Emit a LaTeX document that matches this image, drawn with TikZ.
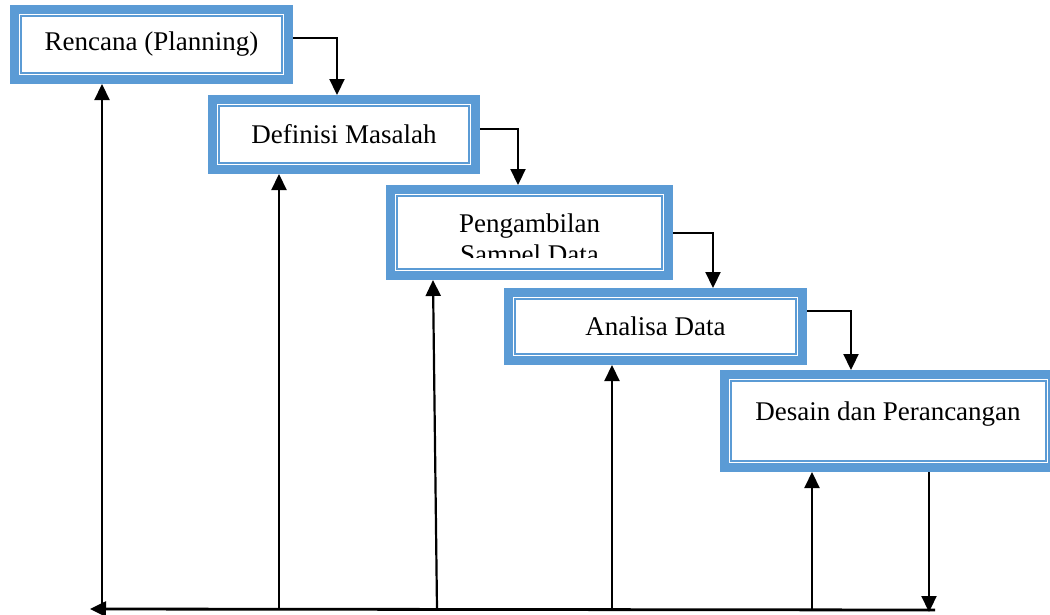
\documentclass[tikz,border=0pt]{standalone}
\usepackage{fontspec}
\setmainfont{Liberation Serif}
\usetikzlibrary{arrows.meta}
\definecolor{boxblue}{HTML}{5B9BD5}
\tikzset{
  stagebox/.style={draw=boxblue, line width=9pt, rectangle, inner sep=0pt, fill=white},
  innerline/.style={draw=boxblue, line width=2pt},
  conn/.style={draw=black, line width=2.2pt, -{Triangle[width=15pt,length=16pt]}},
  lbl/.style={font=\fontsize{27}{31}\selectfont, inner sep=0pt}
}
\newcommand{\innerframe}[1]{%
  \draw[innerline] ([shift={(11,11)}]#1.north west) rectangle ([shift={(-11,-11)}]#1.south east);}
\begin{document}
\begin{tikzpicture}[x=1pt,y=-1pt]
\useasboundingbox (0,0) rectangle (1050,614);
% boxes (outer extents in px)
\node[stagebox, minimum width=274pt, minimum height=70pt] (b1) at (151.5,44.5) {};
\node[stagebox, minimum width=263pt, minimum height=70pt] (b2) at (344,134.5) {};
\node[stagebox, minimum width=278pt, minimum height=86pt] (b3) at (529.5,232.5) {};
\node[stagebox, minimum width=294pt, minimum height=68pt] (b4) at (655.5,326.5) {};
\node[stagebox, minimum width=328pt, minimum height=93pt] (b5) at (888.5,421) {};
\innerframe{b1}
\innerframe{b2}
\innerframe{b3}
\innerframe{b4}
\innerframe{b5}
% labels
\node[lbl] (t1) at (b1.center) {Rencana (Planning)};
\node[lbl] (t2) at (b2.center) {Definisi Masalah};
\begin{scope}
  \clip (400,198) rectangle (660,257);
  \node[lbl, anchor=base, align=center] (t3) at (529.5,263) {Pengambilan\\Sampel Data};
\end{scope}
\node[lbl] (t4) at (b4.center) {Analisa Data};
\node[lbl, anchor=base] (t5) at (888,420) {Desain dan Perancangan};
% step connectors
\draw[conn] (b1.east |- 0,38) -| (337,0 |- b2.north);
\draw[conn] (b2.east |- 0,129) -| (518,0 |- b3.north);
\draw[conn] (b3.east |- 0,233) -| (713,0 |- b4.north);
\draw[conn] (b4.east |- 0,311) -| (851,0 |- b5.north);
% bottom feedback line
\coordinate (p1) at (102,609);
\coordinate (p2) at (279,609);
\coordinate (p3) at (437,609);
\coordinate (p4) at (612,609);
\coordinate (p5) at (812,609);
\coordinate (p6) at (929,609);
\coordinate (pend) at (935,610);
\coordinate (pstart) at (90,609);
\draw[conn, line width=2.8pt] (pend) -- (pstart);
\draw[conn] (b5.south -| p6) -- ([yshift=-3]p6);
\draw[conn] (p1) -- (p1 |- b1.south);
\draw[conn] (p2) -- (p2 |- b2.south);
\draw[conn] (p3) -- (433,0 |- b3.south);
\draw[conn] (p4) -- (p4 |- b4.south);
\draw[conn] (p5) -- (p5 |- b5.south);
\end{tikzpicture}
\end{document}
